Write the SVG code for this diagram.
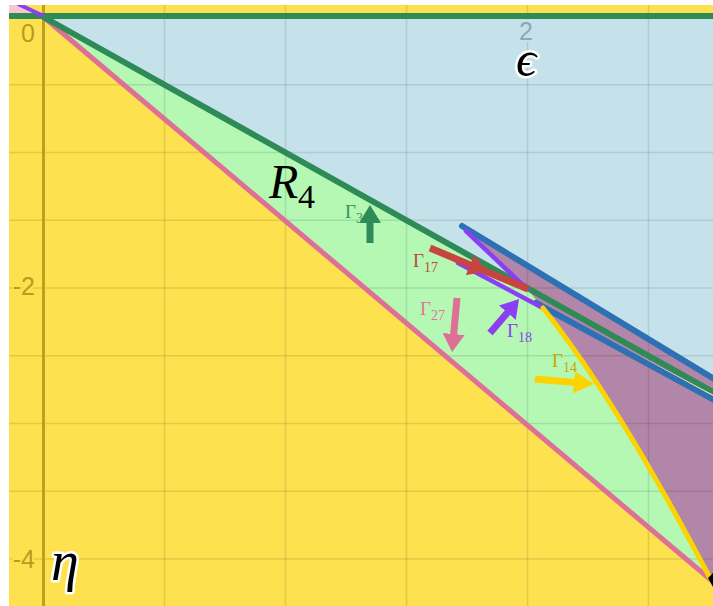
<svg xmlns="http://www.w3.org/2000/svg" width="713" height="606" viewBox="0 0 713 606">
<defs>
<clipPath id="plot"><rect x="9" y="5" width="704" height="601"/></clipPath>
<marker id="hGreen" markerUnits="userSpaceOnUse" markerWidth="18" markerHeight="22" viewBox="0 0 18 22" refX="1" refY="11" orient="auto"><path d="M0,0 L18,11 L0,22 z" fill="#2e8b57"/></marker>
<marker id="hRed" markerUnits="userSpaceOnUse" markerWidth="18" markerHeight="22" viewBox="0 0 18 22" refX="1" refY="11" orient="auto"><path d="M0,0 L18,11 L0,22 z" fill="#c74440"/></marker>
<marker id="hPink" markerUnits="userSpaceOnUse" markerWidth="18" markerHeight="22" viewBox="0 0 18 22" refX="1" refY="11" orient="auto"><path d="M0,0 L18,11 L0,22 z" fill="#de6f95"/></marker>
<marker id="hPurple" markerUnits="userSpaceOnUse" markerWidth="18" markerHeight="22" viewBox="0 0 18 22" refX="1" refY="11" orient="auto"><path d="M0,0 L18,11 L0,22 z" fill="#8b3ff5"/></marker>
<marker id="hYellow" markerUnits="userSpaceOnUse" markerWidth="20" markerHeight="22" viewBox="0 0 20 22" refX="1" refY="11" orient="auto"><path d="M0,0 L20,11 L0,22 z" fill="#fcd300"/></marker>
</defs>
<style>
.grid{stroke:#000;stroke-opacity:0.1;stroke-width:1.6;fill:none}
.ax{font-family:"Liberation Sans",Arial,sans-serif;font-size:25px;paint-order:stroke;stroke-width:4px;stroke-linejoin:round}
.curve{fill:none;stroke-linecap:round;stroke-linejoin:round}
.arr{fill:none;stroke-width:7}
.gl{font-family:"Liberation Serif","DejaVu Serif",serif;font-size:19px}
.sub{font-size:14px}
.math{font-family:"Liberation Serif","DejaVu Serif",serif;fill:#000}
.halo{paint-order:stroke;stroke:#fff;stroke-width:5px;stroke-linejoin:round}
</style>
<rect width="713" height="606" fill="#fff"/>
<g id="regions" clip-path="url(#plot)">
<rect x="9" y="5" width="704" height="601" fill="#fde14f"/>
<polygon points="9,5 19,5 36,13 9,13" fill="#f9c6d0"/>
<polygon id="blueRegion" points="43.5,17 713,17 713,392 43.5,17" fill="#c5e2eb"/>
<path id="purpleRegion" d="M462,226 L713,378 L713,580 L710,578 Q615.8,399 543,308 L527,289 Z" fill="#b286a8"/>
<path id="greenRegion" d="M43.5,17 L527,289 L543,308 Q615.8,399 710,578 L43.5,17 Z" fill="#b4f8b4"/>
</g>
<g id="gridlines" clip-path="url(#plot)">
<path class="grid" d="M164.5,5V606M285.5,5V606M406.5,5V606M527.5,5V606M648.5,5V606"/>
<path class="grid" d="M9,84.75H713M9,152.5H713M9,220.25H713M9,288H713M9,355.75H713M9,423.5H713M9,491.25H713M9,559H713"/>
<line x1="43.5" y1="5" x2="43.5" y2="606" stroke="#bfa01e" stroke-width="3"/>
</g>
<g id="axis-labels">
<text class="ax" x="28" y="42" text-anchor="middle" fill="#b89c20" stroke="#fde14f">0</text>
<text class="ax" x="35" y="295" text-anchor="end" fill="#b89c20" stroke="#fde14f">-2</text>
<text class="ax" x="35" y="568" text-anchor="end" fill="#b89c20" stroke="#fde14f">-4</text>
<text class="ax" x="526" y="40" text-anchor="middle" fill="#8fa9b3" stroke="#c5e2eb">2</text>
</g>
<g id="connectors" clip-path="url(#plot)">
<line id="pinkLine" class="curve" x1="43.5" y1="17" x2="711" y2="580" stroke="#de6f95" stroke-width="5"/>
<line id="greenDiag" class="curve" x1="43.5" y1="17" x2="713" y2="392" stroke="#2e8b57" stroke-width="6"/>
<line id="greenTop" x1="9" y1="16" x2="713" y2="16" stroke="#2e8b57" stroke-width="6"/>
<line id="purpleTop" x1="18" y1="4" x2="43.5" y2="16" stroke="#8b3ff5" stroke-width="4"/>
<line id="yellowThin" x1="540" y1="304" x2="713" y2="395.5" stroke="#fff3a8" stroke-width="1.5"/>
<line id="blueUpper" class="curve" x1="462" y1="226" x2="716" y2="380" stroke="#2d70b3" stroke-width="6"/>
<line id="blueLower" class="curve" x1="536" y1="303" x2="716" y2="401" stroke="#2d70b3" stroke-width="6"/>
<line id="purpleSteep" class="curve" x1="466" y1="231" x2="527" y2="289" stroke="#8b3ff5" stroke-width="4.5"/>
<line id="purpleLow" class="curve" x1="458" y1="263" x2="543" y2="308" stroke="#8b3ff5" stroke-width="4.5"/>
<path id="yellowCurve" class="curve" d="M543,308 Q615.8,399 710,578" stroke="#fcd300" stroke-width="5"/>
<polygon points="708,578 713,573 713,587" fill="#000"/>
</g>
<g id="arrows">
<polyline id="arrowG17" class="arr" points="430,248 471,265.2 528,289" stroke="#c74440" marker-mid="url(#hRed)"/>
<line id="arrowG3" class="arr" x1="370" y1="243" x2="370" y2="222" stroke="#2e8b57" marker-end="url(#hGreen)"/>
<line id="arrowG27" class="arr" x1="457" y1="298" x2="453.6" y2="335" stroke="#de6f95" marker-end="url(#hPink)"/>
<line id="arrowG18" class="arr" x1="490" y1="333" x2="508" y2="312" stroke="#8b3ff5" marker-end="url(#hPurple)"/>
<line id="arrowG14" class="arr" x1="535" y1="379" x2="575" y2="382.4" stroke="#fcd300" marker-end="url(#hYellow)"/>
</g>
<g id="label-R4">
<text class="math" x="269" y="198" font-size="48" font-style="italic">R</text>
<text class="math" x="298" y="208" font-size="34">4</text>
</g>
<g id="label-epsilon"><text class="math halo" x="526" y="76" font-size="50" font-style="italic" text-anchor="middle" font-family="DejaVu Serif, serif">ϵ</text></g>
<g id="label-eta"><text class="math halo" x="51" y="580" font-size="56" font-style="italic" font-family="DejaVu Serif, serif">η</text></g>
<g id="label-G3"><text class="gl" x="345" y="218" fill="#3a9060">Γ<tspan class="sub" dy="5">3</tspan></text></g>
<g id="label-G17"><text class="gl" x="413" y="267" fill="#c74440">Γ<tspan class="sub" dy="5">17</tspan></text></g>
<g id="label-G27"><text class="gl" x="420" y="315" fill="#e0759a">Γ<tspan class="sub" dy="5">27</tspan></text></g>
<g id="label-G18"><text class="gl" x="507" y="337" fill="#8b3ff5">Γ<tspan class="sub" dy="5">18</tspan></text></g>
<g id="label-G14"><text class="gl" x="552" y="367" fill="#c9a600">Γ<tspan class="sub" dy="5">14</tspan></text></g>
</svg>
